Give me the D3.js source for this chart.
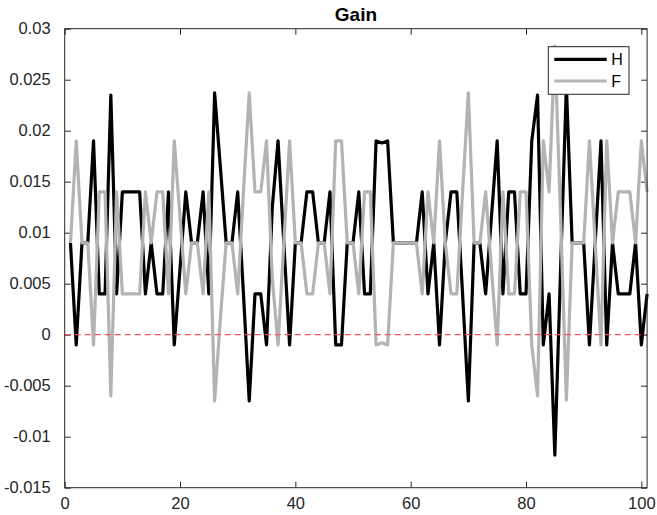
<!DOCTYPE html>
<html>
<head>
<meta charset="utf-8">
<script src="https://cdn.jsdelivr.net/npm/d3@7"></script>
<style>
  html, body { margin: 0; padding: 0; background: #fff; }
  svg { display: block; }
</style>
</head>
<body>
<div id="chart"></div>
<script>
// Gain chart — H vs F, MATLAB style

const TITLE = 'Gain';
const SERIES_NAMES = ['H', 'F'];

const X_TICKS = [0, 20, 40, 60, 80, 100];
const Y_TICKS = [0.03, 0.025, 0.02, 0.015, 0.01, 0.005, 0, -0.005, -0.01, -0.015];
const Y_TICK_LABELS = ['0.03', '0.025', '0.02', '0.015', '0.01', '0.005', '0', '-0.005', '-0.01', '-0.015'];

// values at x = 1..101
const H = [
  0.009, -0.001, 0.009, 0.009, 0.019, 0.004, 0.004, 0.0235, 0.004, 0.014,
  0.014, 0.014, 0.014, 0.004, 0.009, 0.004, 0.004, 0.014, -0.001, 0.0065,
  0.014, 0.009, 0.009, 0.014, 0.004, 0.0237, 0.0164, 0.009, 0.009, 0.014,
  0.004, -0.0065, 0.004, 0.004, -0.001, 0.0125, 0.019, 0.009, -0.001, 0.009,
  0.009, 0.014, 0.014, 0.009, 0.009, 0.014, -0.001, -0.001, 0.009, 0.009,
  0.014, 0.004, 0.004, 0.019, 0.0188, 0.019, 0.009, 0.009, 0.009, 0.009,
  0.009, 0.014, 0.004, 0.009, -0.001, 0.009, 0.014, 0.014, 0.004, -0.0065,
  0.009, 0.009, 0.004, 0.0115, 0.019, 0.004, 0.014, 0.014, 0.004, 0.004,
  0.019, 0.0235, -0.001, 0.004, -0.0118, 0.0065, 0.0244, 0.009, 0.009, 0.009,
  -0.001, 0.009, 0.019, -0.001, 0.009, 0.004, 0.004, 0.004, 0.009, -0.001,
  0.004
];

const F = [
  0.009, 0.019, 0.009, 0.009, -0.001, 0.014, 0.014, -0.006, 0.014, 0.004,
  0.004, 0.004, 0.004, 0.014, 0.009, 0.014, 0.014, 0.004, 0.019, 0.0115,
  0.004, 0.009, 0.009, 0.004, 0.014, -0.0065, 0.0016, 0.009, 0.009, 0.004,
  0.014, 0.0237, 0.014, 0.014, 0.019, 0.0055, -0.001, 0.009, 0.019, 0.009,
  0.009, 0.004, 0.004, 0.009, 0.009, 0.004, 0.019, 0.019, 0.009, 0.009,
  0.004, 0.014, 0.014, -0.001, -0.0008, -0.001, 0.009, 0.009, 0.009, 0.009,
  0.009, 0.004, 0.014, 0.009, 0.019, 0.009, 0.004, 0.004, 0.014, 0.0237,
  0.009, 0.009, 0.014, 0.0065, -0.001, 0.014, 0.004, 0.004, 0.014, 0.014,
  -0.001, -0.006, 0.019, 0.014, 0.0283, 0.0115, -0.0064, 0.009, 0.009, 0.009,
  0.019, 0.009, -0.001, 0.019, 0.009, 0.014, 0.014, 0.014, 0.009, 0.019,
  0.014
];

const COLORS = { H: '#000000', F: '#b3b3b3', zero: '#f25555', axis: '#262626' };
const FONT = "'Liberation Sans', Arial, Helvetica, sans-serif";

const W = 657, Hgt = 515;
const m = { left: 64.7, right: W - 647.1, top: 28.7, bottom: Hgt - 487.7 };
const iw = W - m.left - m.right;
const ih = Hgt - m.top - m.bottom;

const svg = d3.select('#chart').append('svg')
  .attr('width', W).attr('height', Hgt)
  .attr('viewBox', `0 0 ${W} ${Hgt}`);

svg.append('rect').attr('width', W).attr('height', Hgt).attr('fill', '#fff');

const g = svg.append('g').attr('transform', `translate(${m.left},${m.top})`);

const x = d3.scaleLinear().domain([0, 101]).range([0, iw]);
const y = d3.scaleLinear().domain([-0.015, 0.03]).range([ih, 0]);

// axes box + inward ticks (MATLAB look)
const TL = 6;
g.append('g')
  .attr('transform', `translate(0,${ih})`)
  .call(d3.axisBottom(x).tickValues(X_TICKS).tickSize(-TL).tickPadding(TL + 4).tickFormat(d3.format('d')))
  .call(a => a.select('.domain').remove())
  .call(a => a.selectAll('.tick line').attr('stroke', COLORS.axis))
  .call(a => a.selectAll('.tick text').attr('fill', COLORS.axis).attr('font-size', '16.5px').attr('font-family', FONT));

g.append('g')
  .call(d3.axisTop(x).tickValues(X_TICKS).tickSize(-TL).tickFormat(''))
  .call(a => a.select('.domain').remove())
  .call(a => a.selectAll('.tick line').attr('stroke', COLORS.axis));

g.append('g')
  .call(d3.axisLeft(y).tickValues(Y_TICKS).tickSize(-TL).tickPadding(TL + 8)
    .tickFormat((d, i) => Y_TICK_LABELS[i]))
  .call(a => a.select('.domain').remove())
  .call(a => a.selectAll('.tick line').attr('stroke', COLORS.axis))
  .call(a => a.selectAll('.tick text').attr('fill', COLORS.axis).attr('font-size', '16.5px').attr('font-family', FONT));

g.append('g')
  .attr('transform', `translate(${iw},0)`)
  .call(d3.axisRight(y).tickValues(Y_TICKS).tickSize(-TL).tickFormat(''))
  .call(a => a.select('.domain').remove())
  .call(a => a.selectAll('.tick line').attr('stroke', COLORS.axis));

// series
const line = d3.line().x((d, i) => x(i + 1)).y(d => y(d));

[['H', H], ['F', F]].forEach(([name, vals]) => {
  g.append('path')
    .datum(vals)
    .attr('d', line)
    .attr('fill', 'none')
    .attr('stroke', COLORS[name])
    .attr('stroke-width', 3.2)
    .attr('stroke-linejoin', 'round');
});

// zero reference
g.append('line')
  .attr('x1', x(0)).attr('x2', x(101))
  .attr('y1', y(0)).attr('y2', y(0))
  .attr('stroke', COLORS.zero)
  .attr('stroke-width', 1.2)
  .attr('stroke-dasharray', '6,4');

g.append('rect')
  .attr('width', iw).attr('height', ih)
  .attr('fill', 'none')
  .attr('stroke', COLORS.axis)
  .attr('stroke-width', 1);

// title
svg.append('text')
  .attr('x', m.left + iw / 2).attr('y', 21)
  .attr('text-anchor', 'middle')
  .attr('font-size', '19px').attr('font-weight', 'bold')
  .attr('fill', '#000').attr('font-family', FONT)
  .text(TITLE);

// legend
const leg = svg.append('g').attr('transform', 'translate(548.3,46.7)');
leg.append('rect')
  .attr('width', 80.7).attr('height', 47.6)
  .attr('fill', '#fff').attr('stroke', COLORS.axis).attr('stroke-width', 1);

SERIES_NAMES.forEach((name, i) => {
  const ly = 12.6 + i * 21.7;
  leg.append('line')
    .attr('x1', 6).attr('x2', 58.4)
    .attr('y1', ly).attr('y2', ly)
    .attr('stroke', COLORS[name]).attr('stroke-width', 3.2);
  leg.append('text')
    .attr('x', 63).attr('y', ly + 5.7)
    .attr('font-size', '16px').attr('fill', '#000').attr('font-family', FONT)
    .text(name);
});
</script>
</body>
</html>
